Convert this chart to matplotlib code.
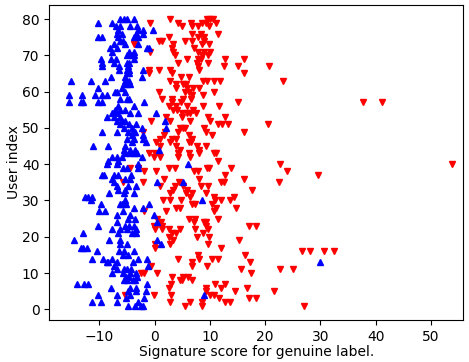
import matplotlib
matplotlib.use('Agg')
import matplotlib.pyplot as plt

# genuine signatures (blue), one line per user row
blue_user = [
    80, 80, 80, 80,
    79, 79,
    78, 78, 78, 78,
    77, 77, 77, 77,
    76, 76, 76, 76,
    75, 75, 75, 75, 75,
    74, 74,
    73, 73, 73,
    72, 72, 72, 72,
    71, 71, 71,
    70, 70, 70,
    69, 69, 69, 69,
    68, 68, 68, 68,
    67, 67, 67,
    66, 66, 66, 66,
    65, 65,
    64, 64, 64,
    63, 63, 63, 63, 63,
    62, 62, 62,
    61, 61,
    60, 60, 60,
    59, 59, 59, 59, 59,
    58, 58, 58,
    57, 57, 57, 57, 57, 57,
    56, 56,
    55, 55, 55,
    54, 54, 54, 54, 54,
    53, 53, 53,
    52, 52, 52, 52,
    51, 51, 51,
    50, 50, 50, 50,
    49, 49, 49, 49, 49,
    48, 48,
    47, 47, 47,
    46, 46,
    45, 45, 45,
    44, 44, 44, 44,
    43, 43, 43, 43,
    42, 42, 42, 42,
    41, 41,
    40, 40, 40, 40,
    39, 39, 39,
    37, 37, 37, 37, 37,
    36, 36, 36,
    35, 35, 35,
    34, 34, 34,
    33, 33,
    32, 32, 32,
    31, 31, 31,
    30, 30, 30,
    29, 29, 29, 29, 29,
    28, 28,
    27, 27, 27,
    26, 26, 26,
    25, 25,
    24, 24,
    23, 23, 23, 23,
    22, 22, 22, 22,
    21, 21, 21, 21,
    19, 19, 19, 19,
    18, 18, 18,
    17, 17, 17,
    16, 16, 16, 16,
    15, 15,
    14, 14, 14, 14, 14,
    13, 13, 13, 13, 13,
    12, 12,
    11, 11, 11, 11,
    10, 10, 10, 10,
    9, 9, 9,
    8, 8, 8, 8,
    7, 7, 7, 7,
    6, 6, 6,
    5, 5, 5,
    4, 4, 4, 4,
    3, 3,
    2, 2, 2, 2,
    1, 1, 1, 1,
]
blue_score = [
    -6.2, -5.6, -5.0, -3.8,
    -10.3, -7.8,
    -7.0, -6.2, -4.4, -3.2,
    -6.6, -3.0, -2.1, -0.4,
    -6.8, -6.0, -3.3, -2.2,
    -10.3, -9.6, -6.6, -3.8, -3.1,
    -6.2, -5.7,
    -7.4, -5.4, -3.0,
    -8.1, -6.8, -1.4, -1.0,
    -7.8, -4.6, -3.8,
    -5.0, -4.2, -3.7,
    -9.8, -8.0, -7.0, -3.8,
    -9.6, -7.4, -5.1, -4.6,
    -9.5, -6.4, -4.8,
    -6.4, -5.0, -4.6, -2.2,
    -5.1, -4.6,
    -7.9, -5.4, -2.3,
    -15.2, -11.5, -9.0, -5.4, -4.6,
    -5.6, -5.0, -4.4,
    -10.2, -6.0,
    -7.2, -6.8, -5.4,
    -15.6, -13.2, -10.9, -9.6, -8.6,
    -6.2, -5.0, -4.6,
    -15.6, -13.4, -13.0, -10.2, -9.6, -2.0,
    -6.6, -3.8,
    -7.2, -6.3, -5.4,
    -7.7, -6.8, -4.5, -3.0, 0.2,
    -8.7, -7.4, -6.2,
    -6.8, -6.0, -5.4, 1.9,
    -6.2, -4.6, -3.3,
    -5.6, -4.2, -2.3, 2.1,
    -9.6, -6.8, -4.8, -4.0, -3.6,
    -4.2, -2.2,
    -5.1, -3.7, -2.1,
    -4.2, -1.6,
    -11.2, -8.4, -5.4,
    -5.6, -4.4, -3.6, 0.7,
    -5.4, -4.4, -3.8, -3.2,
    -7.8, -6.8, -6.0, -2.3,
    -8.4, -6.6,
    -8.6, -6.9, -3.0, 6.1,
    -5.7, -5.0, -3.0,
    -9.6, -9.2, -7.4, -6.6, -4.3,
    -7.8, -5.4, -4.5,
    -7.4, 0.4, 5.1,
    -6.8, -4.9, -3.4,
    -6.6, -5.4,
    -8.3, -5.6, -3.8,
    -12.6, -12.0, -11.4,
    -11.6, -5.4, 8.5,
    -9.7, -6.2, -6.0, -5.2, -1.1,
    -3.8, -2.2,
    -10.1, -9.0, -5.7,
    -6.8, -4.4, -0.2,
    -4.8, -3.6,
    -6.8, 0.5,
    -10.3, -5.4, -4.6, -3.8,
    -7.7, -6.2, -5.1, -3.4,
    -13.0, -6.6, -4.2, -3.3,
    -14.6, -8.3, -6.2, 0.4,
    -6.3, -5.0, 1.1,
    -13.4, -13.0, -12.2,
    -10.4, -6.4, -5.5, -3.8,
    -5.7, -4.9,
    -11.3, -9.3, -7.7, -3.1, -1.4,
    -8.7, -8.4, -6.8, -4.0, 30.0,
    -7.4, -1.3,
    -6.9, -5.6, -5.0, -4.3,
    -7.7, -5.7, -4.4, -3.3,
    -5.2, -4.6, -3.2,
    -5.6, -5.0, -4.0, -3.6,
    -14.0, -12.8, -12.1, -1.4,
    -7.9, -4.4, -3.4,
    -4.8, -3.3, -1.6,
    -10.2, -6.8, -4.4, 9.0,
    -5.2, -1.9,
    -11.3, -9.8, -6.9, -3.1,
    -4.8, -3.6, -2.5, -2.1,
]

# forged signatures (red), one line per user row
red_user = [
    80, 80, 80, 80,
    79, 79, 79, 79, 79, 79,
    78, 78, 78, 78,
    76, 76, 76,
    75, 75, 75,
    74, 74, 74, 74, 74,
    73, 73, 73, 73,
    72, 72,
    71, 71, 71, 71, 71,
    70, 70, 70,
    69, 69, 69, 69, 69,
    68, 68, 68,
    67, 67, 67, 67,
    66, 66, 66, 66,
    65, 65, 65,
    64, 64,
    63, 63, 63, 63, 63, 63,
    62, 62, 62,
    61, 61, 61, 61,
    60, 60, 60, 60,
    59, 59,
    58, 58, 58, 58,
    57, 57, 57, 57, 57,
    56, 56, 56, 56, 56,
    55, 55, 55,
    54, 54, 54, 54,
    53, 53, 53, 53,
    52, 52, 52, 52,
    51, 51, 51, 51,
    50, 50, 50, 50,
    49, 49, 49, 49, 49,
    48, 48, 48,
    47, 47, 47, 47,
    46, 46, 46, 46,
    45, 45, 45, 45,
    44, 44,
    43, 43, 43, 43, 43, 43, 43,
    42, 42, 42, 42,
    41,
    40, 40,
    39, 39, 39, 39, 39, 39, 39,
    38, 38, 38, 38, 38,
    37, 37,
    36, 36, 36,
    35, 35, 35, 35, 35, 35,
    34, 34, 34, 34, 34,
    33, 33, 33,
    32, 32, 32, 32,
    31, 31, 31,
    30, 30, 30, 30, 30, 30,
    29, 29, 29,
    28, 28, 28, 28,
    27, 27, 27,
    25, 25, 25, 25,
    24, 24, 24, 24,
    23, 23, 23, 23, 23,
    22, 22, 22, 22, 22, 22,
    21, 21, 21,
    20, 20, 20,
    19, 19,
    18, 18, 18,
    17, 17,
    16, 16, 16, 16,
    15, 15,
    14, 14, 14, 14,
    13, 13,
    12, 12, 12,
    11, 11, 11,
    10, 10, 10, 10,
    9, 9, 9,
    8, 8, 8,
    7, 7, 7,
    6, 6, 6, 6,
    5, 5, 5,
    4, 4, 4, 4, 4,
    3, 3, 3,
    2, 2, 2, 2, 2,
    1, 1, 1,
]
red_score = [
    2.7, 9.5, 10.1, 10.5,
    -0.9, 4.3, 6.6, 8.5, 9.2, 11.1,
    4.9, 6.7, 7.9, 9.8,
    6.7, 8.3, 11.4,
    2.5, 7.9, 8.9,
    0.8, 1.4, 5.4, 6.7, 8.9,
    -3.8, 3.3, 8.5, 9.8,
    3.2, 7.2,
    -0.9, 3.4, 7.8, 9.0, 10.1,
    3.6, 8.5, 9.6,
    5.8, 7.8, 8.4, 12.7, 16.2,
    4.3, 7.7, 9.6,
    7.8, 12.5, 15.1, 20.7,
    -1.1, 0.8, 2.8, 8.0,
    -1.1, 3.1, 16.1,
    4.8, 6.2,
    2.7, 8.7, 9.5, 10.7, 11.9, 23.2,
    3.9, 5.1, 5.6,
    3.9, 5.9, 6.9, 8.0,
    0.8, 5.4, 6.3, 10.8,
    6.7, 8.7,
    1.3, 3.2, 5.1, 6.6,
    3.2, 4.8, 15.0, 37.7, 41.1,
    2.5, 3.8, 5.9, 8.7, 11.7,
    3.3, 4.0, 7.0,
    4.9, 5.8, 6.4, 7.5,
    2.1, 5.0, 9.6, 12.8,
    -0.7, 2.8, 6.4, 10.1,
    11.4, 12.1, 13.3, 20.5,
    4.6, 5.1, 5.4, 9.0,
    -2.2, 1.9, 4.3, 9.2, 16.2,
    1.6, 6.2, 10.4,
    1.0, 3.2, 3.9, 6.7,
    0.3, 2.7, 6.2, 6.6,
    1.0, 3.8, 7.7, 9.2,
    4.6, 8.0,
    -1.1, 0.1, 4.2, 6.2, 8.0, 10.7, 11.1,
    -0.2, 1.0, 4.2, 6.4,
    11.4,
    22.7, 53.9,
    -4.4, -3.1, 2.5, 3.7, 9.5, 9.9, 13.8,
    -1.9, 0.2, 7.2, 7.8, 23.9,
    12.8, 29.5,
    1.7, 8.1, 16.2,
    -5.7, -2.2, 4.4, 12.0, 12.6, 22.5,
    1.0, 3.6, 5.2, 8.3, 9.6,
    3.3, 5.8, 17.6,
    2.7, 5.7, 6.7, 9.3,
    6.4, 10.7, 14.3,
    1.5, 2.7, 4.8, 10.9, 12.0, 13.6,
    6.7, 7.3, 10.3,
    3.8, 4.5, 11.1, 14.8,
    -2.0, 2.0, 10.8,
    0.4, 6.2, 7.3, 11.4,
    1.1, 7.2, 8.9, 9.3,
    -0.1, 1.3, 9.2, 17.0, 18.4,
    0.1, 1.3, 2.5, 4.6, 7.3, 9.6,
    3.1, 3.8, 8.7,
    2.5, 7.7, 9.8,
    3.4, 15.2,
    0.1, 2.7, 9.6,
    0.1, 12.0,
    26.7, 28.2, 30.6, 32.4,
    7.8, 16.3,
    4.2, 8.1, 10.3, 11.5,
    6.7, 17.3,
    -0.7, 6.8, 9.5,
    15.7, 22.7, 25.0,
    -2.5, -1.9, 0.4, 17.5,
    3.1, 5.2, 6.1,
    4.5, 5.0, 6.8,
    2.9, 11.0, 12.8,
    2.5, 9.3, 12.0, 16.7,
    9.3, 14.5, 21.6,
    -5.4, -0.2, 2.9, 10.1, 10.8,
    11.6, 17.0, 18.4,
    2.8, 6.4, 8.5, 12.7, 13.7,
    5.5, 8.6, 27.0,
]

fig, ax = plt.subplots(figsize=(4.69, 3.62), dpi=100)

ax.plot(red_score, red_user, 'rv', markersize=5)
ax.plot(blue_score, blue_user, 'b^', markersize=5)

ax.set_xlabel('Signature score for genuine label.', labelpad=1)
ax.set_ylabel('User index', labelpad=1)
ax.set_xlim(-19.1, 55.9)

fig.subplots_adjust(left=0.105, right=0.988, top=0.987, bottom=0.116)
fig.savefig('out.png')
